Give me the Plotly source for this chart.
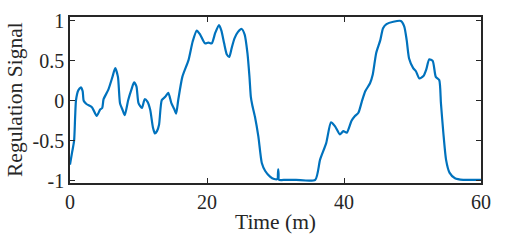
import plotly.graph_objects as go

# Time (minutes) and regulation signal values
time_m = [0, 0.3, 0.6, 0.75, 0.88, 1.2, 1.6, 1.85, 2.0, 2.4, 3.2, 3.9, 4.4, 4.7, 4.9,
          5.6, 6.2, 6.6, 7.0, 7.3, 7.7, 8.0, 8.5, 9.0, 9.35, 9.7, 10.0, 10.5, 10.9,
          11.3, 11.7, 12.1, 12.4, 12.7, 13.0, 13.4, 13.9, 14.35, 14.8, 15.2, 15.5,
          15.8, 16.4, 17.3, 17.9, 18.5, 19.0, 19.7, 20.2, 20.7, 21.2, 21.75, 22.1,
          22.5, 22.9, 23.25, 23.6, 24.0, 24.5, 25.05, 25.5, 25.9, 26.2, 26.4, 26.6,
          27.0, 27.5, 28.0, 28.5, 29.2, 29.8, 30.3, 30.35, 30.4, 30.45, 30.5, 31.5,
          33.0, 35.8, 36.5, 37.4, 38.1, 38.7, 39.4, 39.9, 40.4, 41.1, 41.6, 42.1,
          42.6, 43.1, 43.8, 44.2, 44.7, 45.3, 45.7, 46.2, 47.2, 48.3, 48.8, 49.15,
          49.5, 50.1, 50.5, 51.0, 51.6, 52.0, 52.45, 52.95, 53.4, 53.9, 54.15, 54.5,
          54.9, 55.4, 56.2, 57.4, 60.0]
signal = [-0.80, -0.65, -0.50, -0.20, 0.01, 0.13, 0.17, 0.12, 0.00, -0.04, -0.08,
          -0.19, -0.11, -0.09, 0.02, 0.14, 0.30, 0.41, 0.30, -0.03, -0.12, -0.18,
          0.01, 0.15, 0.23, 0.18, -0.03, -0.09, 0.02, -0.01, -0.11, -0.33, -0.41,
          -0.38, -0.30, 0.01, 0.05, 0.10, -0.03, -0.10, -0.16, 0.01, 0.30, 0.51,
          0.74, 0.88, 0.83, 0.72, 0.73, 0.72, 0.85, 0.95, 0.88, 0.72, 0.58, 0.55,
          0.66, 0.78, 0.86, 0.90, 0.83, 0.60, 0.30, 0.05, -0.05, -0.20, -0.45,
          -0.78, -0.88, -0.95, -0.98, -0.98, -0.92, -0.86, -0.92, -0.99, -0.99,
          -0.99, -0.99, -0.74, -0.53, -0.27, -0.32, -0.42, -0.38, -0.40, -0.25,
          -0.19, -0.15, -0.01, 0.12, 0.22, 0.33, 0.60, 0.76, 0.91, 0.96, 0.99,
          1.00, 0.93, 0.76, 0.53, 0.41, 0.37, 0.28, 0.31, 0.39, 0.52, 0.50, 0.30,
          0.26, -0.03, -0.40, -0.74, -0.90, -0.97, -0.99, -0.99]

x_tick_vals = [0, 20, 40, 60]
x_tick_text = ["0", "20", "40", "60"]
y_tick_vals = [-1, -0.5, 0, 0.5, 1]
y_tick_text = ["-1", "-0.5", "0", "0.5", "1"]
x_title = "Time (m)"
y_title = "Regulation Signal"

FONT = "Liberation Serif"
AX = "#262626"

fig = go.Figure()
fig.add_trace(go.Scatter(x=time_m, y=signal, mode="lines", hoverinfo="skip",
                         line=dict(color="#0072BD", width=2.2, shape="spline", smoothing=0.6)))

axis_common = dict(showline=True, linecolor=AX, linewidth=1.5, mirror="ticks",
                   ticks="inside", ticklen=5, tickwidth=1, tickcolor=AX,
                   showgrid=False, zeroline=False, automargin=False,
                   tickfont=dict(family=FONT, size=20, color=AX))

fig.update_layout(
    width=532, height=240,
    margin=dict(l=70, r=51, t=17, b=57),
    paper_bgcolor="white", plot_bgcolor="white",
    showlegend=False,
    xaxis=dict(range=[0, 60], tickvals=x_tick_vals, ticktext=x_tick_text, **axis_common),
    yaxis=dict(range=[-1.03, 1.05], tickvals=y_tick_vals, ticktext=y_tick_text,
               ticklabelstandoff=0, **axis_common),
    annotations=[
        dict(text=x_title, xref="paper", yref="paper", x=0.5, y=0, xanchor="center",
             yanchor="middle", yshift=-39, showarrow=False,
             font=dict(family=FONT, size=21.5, color=AX)),
        dict(text=y_title, xref="paper", yref="paper", x=0, y=0.5, xanchor="center",
             yanchor="middle", xshift=-55, textangle=-90, showarrow=False,
             font=dict(family=FONT, size=21.5, color=AX)),
    ],
)

fig.write_html("out.html", config={"displayModeBar": False},
               post_script="document.body.style.margin='0';")
